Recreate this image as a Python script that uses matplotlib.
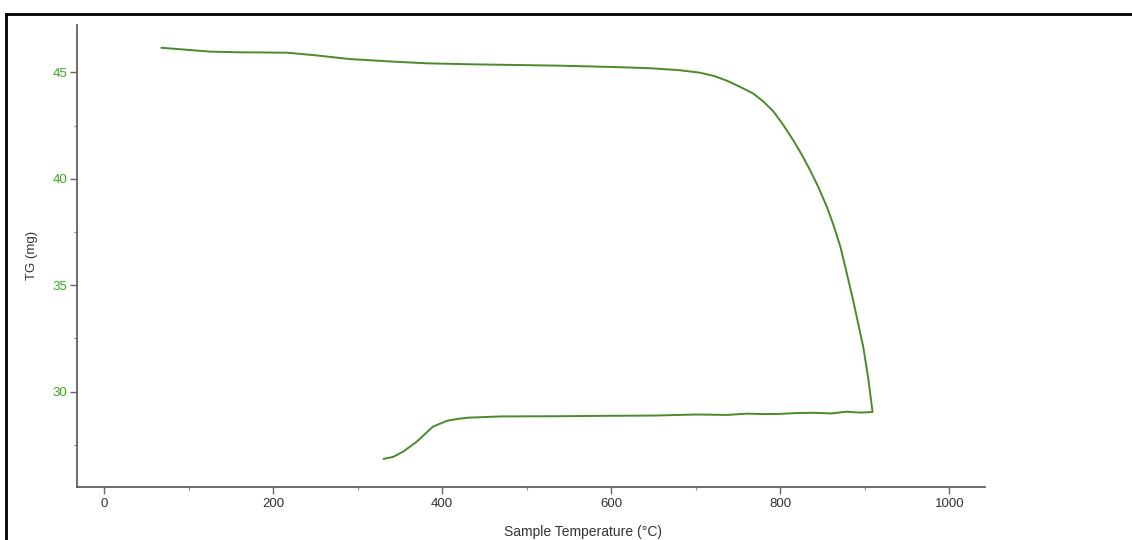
import matplotlib
matplotlib.use('Agg')
import matplotlib.pyplot as plt
from matplotlib.lines import Line2D
from matplotlib.ticker import MultipleLocator

plt.rcParams['font.family'] = ['Liberation Sans', 'DejaVu Sans']

# heating branch (mass loss) then cooling branch back
temp_up = [68, 100, 125, 157, 216, 247, 291, 342, 382, 441, 540, 600, 646, 680,
           705, 722, 737, 752, 768, 780, 792, 803, 815, 825, 835, 845, 855, 863,
           871, 878, 886, 892, 898, 904, 909]
tg_up = [46.15, 46.05, 45.97, 45.94, 45.92, 45.81, 45.62, 45.50, 45.42, 45.37,
         45.31, 45.25, 45.19, 45.10, 44.98, 44.82, 44.60, 44.32, 44.00, 43.62,
         43.15, 42.55, 41.82, 41.15, 40.41, 39.60, 38.68, 37.80, 36.80, 35.65,
         34.30, 33.20, 32.10, 30.60, 29.05]
temp_down = [909, 895, 878, 860, 840, 820, 800, 780, 760, 737, 700, 650, 600,
             540, 469, 430, 418, 406, 389, 370, 354, 342, 331]
tg_down = [29.05, 29.02, 29.06, 28.98, 29.01, 29.00, 28.96, 28.95, 28.97, 28.91,
           28.93, 28.88, 28.87, 28.85, 28.84, 28.78, 28.72, 28.64, 28.36, 27.66,
           27.19, 26.94, 26.85]

x_ticks = [0, 200, 400, 600, 800, 1000]
y_ticks = [30, 35, 40, 45]
y_ticklabels = ['30', '35', '40', '45']

fig = plt.figure(figsize=(11.32, 5.4), dpi=100)
ax = fig.add_axes([77/1132, 1-486.7/540, 908/1132, 461.7/540])

ax.plot(temp_up + temp_down[1:], tg_up + tg_down[1:], color='#4a8a2a', lw=1.4)

ax.set_xlim(-32, 1042)
ax.set_ylim(25.54, 47.22)
ax.set_xticks(x_ticks)
ax.set_yticks(y_ticks)
ax.set_yticklabels(y_ticklabels)
ax.xaxis.set_minor_locator(MultipleLocator(100))
ax.yaxis.set_minor_locator(MultipleLocator(2.5))

for s in ['top', 'right']:
    ax.spines[s].set_visible(False)
for s in ['left', 'bottom']:
    ax.spines[s].set_color('#555555')
    ax.spines[s].set_linewidth(1.2)

ax.tick_params(axis='both', which='major', length=5, width=1, color='#666666', labelsize=9.5, pad=2)
ax.tick_params(axis='both', which='minor', length=2.5, width=0.8, color='#888888')
ax.tick_params(axis='y', labelcolor='#3aa81a')
ax.tick_params(axis='x', labelcolor='#333333', pad=3)

ax.set_ylabel('TG (mg)', fontsize=9.5, color='#333333')
ax.yaxis.set_label_coords(-0.043, 0.5)
ax.set_xlabel('Sample Temperature (°C)', fontsize=10, color='#333333')
ax.xaxis.set_label_coords(0.557, -0.083)

# page frame from the scan
fig.add_artist(Line2D([6/1132, 1.0], [1-14/540, 1-14/540], color='black', lw=2, transform=fig.transFigure))
fig.add_artist(Line2D([6/1132, 6/1132], [0.0, 1-14/540], color='black', lw=2, transform=fig.transFigure))

fig.savefig('out.png', dpi=100)
